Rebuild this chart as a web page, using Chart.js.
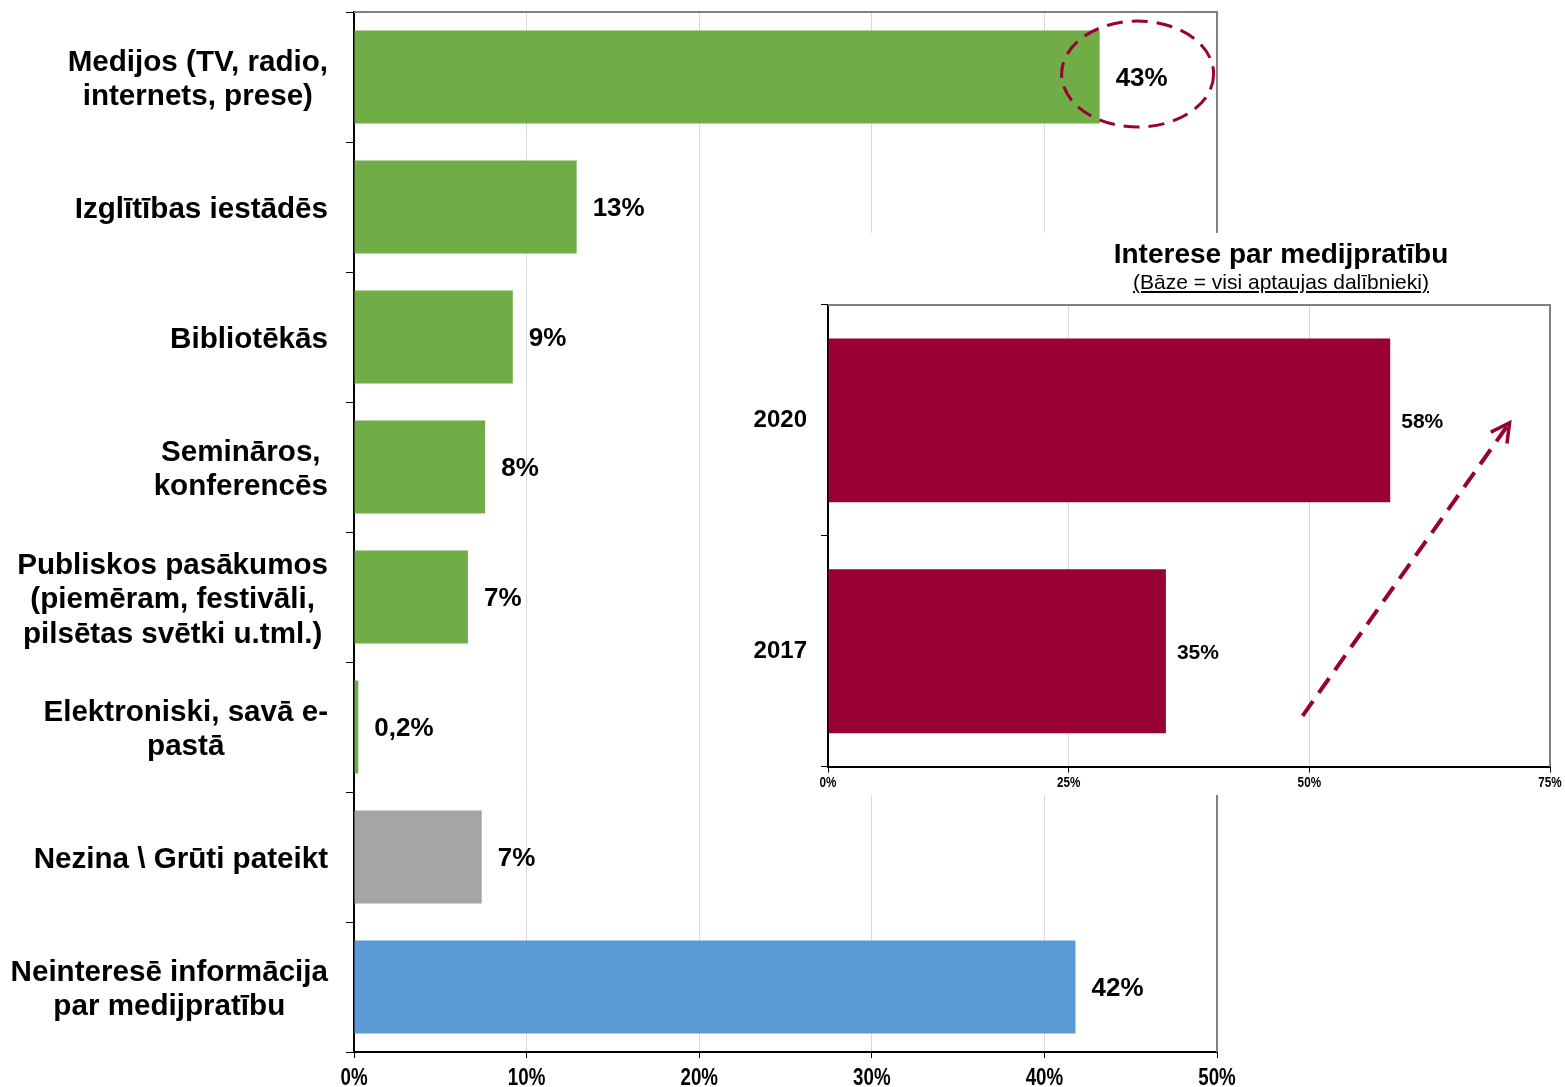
<!DOCTYPE html>
<html>
<head>
<meta charset="utf-8">
<script src="https://cdn.jsdelivr.net/npm/chart.js@4"></script>
<style>
  body { margin: 0; background: #fff; }
  #wrap { position: relative; width: 1565px; height: 1087px; overflow: hidden; }
  #mainChart { position: absolute; left: 0; top: 0; }
  #insetChart { position: absolute; left: 720px; top: 233px; }
  .inset-title { position: absolute; left: 1081px; width: 400px; text-align: center; color: #000;
                 font-family: "Liberation Sans", Arial, sans-serif; white-space: nowrap; }
  #t1 { top: 238px; font-size: 28px; line-height: 32px; font-weight: bold; }
  #t2 { top: 270px; font-size: 21px; line-height: 24px; text-decoration: underline; }
</style>
</head>
<body>
<div id="wrap">
  <canvas id="mainChart" width="1565" height="1087"></canvas>
  <canvas id="insetChart" width="845" height="562"></canvas>
  <div class="inset-title" id="t1">Interese par medijpratību</div>
  <div class="inset-title" id="t2">(Bāze = visi aptaujas dalībnieki)</div>
</div>
<script>
// galvenais grafiks - kur vēlas saņemt informāciju
const categoryLines = [
    ["Medijos (TV, radio,", "internets, prese)"],
    ["Izglītības iestādēs"],
    ["Bibliotēkās"],
    ["Semināros,", "konferencēs"],
    ["Publiskos pasākumos", "(piemēram, festivāli,", "pilsētas svētki u.tml.)"],
    ["Elektroniski, savā e-", "pastā"],
    ["Nezina \\ Grūti pateikt"],
    ["Neinteresē informācija", "par medijpratību"]
];
const shares = [43.2, 12.9, 9.2, 7.6, 6.6, 0.25, 7.4, 41.8];
const shareLabels = ["43%", "13%", "9%", "8%", "7%", "0,2%", "7%", "42%"];
const barColors = ["#70AD47", "#70AD47", "#70AD47", "#70AD47", "#70AD47", "#70AD47", "#A5A5A5", "#5B9BD5"];

// ieliktnis - interese par medijpratību
const years = ["2020", "2017"];
const interest = [58.4, 35.1];
const interestLabels = ["58%", "35%"];

const FONT = '"Liberation Sans", Arial, sans-serif';
const RED = "#990033";

// pelēkais rāmis augšā un labajā pusē
const frame = {
    id: 'frame',
    afterDraw(chart) {
        const a = chart.chartArea, ctx = chart.ctx;
        ctx.save();
        ctx.strokeStyle = "#808080";
        ctx.lineWidth = 2;
        ctx.beginPath();
        ctx.moveTo(a.left, a.top);
        ctx.lineTo(a.right, a.top);
        ctx.lineTo(a.right, a.bottom);
        ctx.stroke();
        ctx.restore();
    }
};

// vērtību etiķetes pie stabiņiem
function valueLabels(labels, font, gap) {
    return {
        id: 'valueLabels',
        afterDatasetsDraw(chart) {
            const ctx = chart.ctx;
            ctx.save();
            ctx.font = font;
            ctx.fillStyle = "#000";
            ctx.textAlign = "left";
            ctx.textBaseline = "middle";
            chart.getDatasetMeta(0).data.forEach((bar, i) => {
                ctx.fillText(labels[i], bar.x + gap, bar.y + 2);
            });
            ctx.restore();
        }
    };
}

// x ass procenti - šaurāks burtu stils
function xTickLabels(font, squeeze, dy) {
    return {
        id: 'xTickLabels',
        afterDraw(chart) {
            const s = chart.scales.x, ctx = chart.ctx;
            ctx.save();
            ctx.font = font;
            ctx.fillStyle = "#000";
            ctx.textAlign = "center";
            ctx.textBaseline = "middle";
            s.ticks.forEach(t => {
                ctx.save();
                ctx.translate(s.getPixelForValue(t.value), s.top + dy);
                ctx.scale(squeeze, 1);
                ctx.fillText(t.value + "%", 0, 0);
                ctx.restore();
            });
            ctx.restore();
        }
    };
}

// kategoriju nosaukumi - bloks pa labi, rindas centrētas
const categoryLabels = {
    id: 'categoryLabels',
    afterDraw(chart) {
        const ctx = chart.ctx, y = chart.scales.y;
        ctx.save();
        ctx.font = 'bold 29.6px ' + FONT;
        ctx.fillStyle = "#000";
        ctx.textAlign = "center";
        ctx.textBaseline = "middle";
        const right = y.right - 26;
        const lh = 34.5;
        categoryLines.forEach((lines, i) => {
            const cy = y.getPixelForTick(i) + 3;
            const w = Math.max(...lines.map(l => ctx.measureText(l).width));
            const cx = right - w / 2;
            lines.forEach((l, j) => ctx.fillText(l, cx, cy + (j - (lines.length - 1) / 2) * lh));
        });
        ctx.restore();
    }
};

// raustītā elipse ap 43%
const ellipse = {
    id: 'ellipse',
    afterDraw(chart) {
        const bar = chart.getDatasetMeta(0).data[0];
        const ctx = chart.ctx;
        ctx.save();
        ctx.strokeStyle = RED;
        ctx.lineWidth = 3;
        ctx.setLineDash([16, 9]);
        ctx.beginPath();
        ctx.ellipse(bar.x + 38, bar.y - 3, 76, 53, 0, 0, Math.PI * 2);
        ctx.stroke();
        ctx.restore();
    }
};

new Chart(document.getElementById("mainChart").getContext("2d"), {
    type: 'bar',
    data: {
        labels: categoryLines.map(l => l.join(" ")),
        datasets: [{
            data: shares,
            backgroundColor: barColors,
            barPercentage: 0.715,
            categoryPercentage: 1
        }]
    },
    options: {
        indexAxis: 'y',
        responsive: false,
        animation: false,
        layout: { padding: { top: 12, right: 348, left: 0, bottom: 0 } },
        plugins: { legend: { display: false }, tooltip: { enabled: false } },
        scales: {
            x: {
                min: 0, max: 50,
                ticks: { stepSize: 10, display: false },
                grid: { color: "#d9d9d9", tickColor: "#000", tickLength: 6 },
                border: { color: "#000", width: 2 },
                afterFit: s => { s.height = 35; }
            },
            y: {
                ticks: { display: false },
                grid: { drawOnChartArea: false, tickColor: "#000", tickLength: 8, offset: true },
                border: { color: "#000", width: 2 },
                afterFit: s => { s.width = 354; }
            }
        }
    },
    plugins: [frame, categoryLabels, valueLabels(shareLabels, 'bold 26px ' + FONT, 16),
              xTickLabels('bold 24px ' + FONT, 0.78, 26), ellipse]
});

// baltais fons ieliktnim
const whiteBg = {
    id: 'whiteBg',
    beforeDraw(chart) {
        const ctx = chart.ctx;
        ctx.save();
        ctx.fillStyle = "#fff";
        ctx.fillRect(0, 0, chart.width, chart.height);
        ctx.restore();
    }
};

// raustītā bulta (pieaugums)
const arrow = {
    id: 'arrow',
    afterDraw(chart) {
        const a = chart.chartArea, x = chart.scales.x, ctx = chart.ctx;
        const h = a.bottom - a.top;
        const x0 = x.getPixelForValue(49.3), y0 = a.top + 0.89 * h;
        const x1 = x.getPixelForValue(70.8), y1 = a.top + 0.255 * h;
        ctx.save();
        ctx.strokeStyle = RED;
        ctx.lineWidth = 4;
        ctx.setLineDash([18, 10]);
        ctx.beginPath();
        ctx.moveTo(x0, y0);
        ctx.lineTo(x1, y1);
        ctx.stroke();
        ctx.setLineDash([]);
        ctx.lineWidth = 3.5;
        const back = Math.atan2(y0 - y1, x0 - x1);
        ctx.beginPath();
        ctx.moveTo(x1 + 21 * Math.cos(back + 0.49), y1 + 21 * Math.sin(back + 0.49));
        ctx.lineTo(x1, y1);
        ctx.lineTo(x1 + 21 * Math.cos(back - 0.49), y1 + 21 * Math.sin(back - 0.49));
        ctx.stroke();
        ctx.restore();
    }
};

new Chart(document.getElementById("insetChart").getContext("2d"), {
    type: 'bar',
    data: {
        labels: years,
        datasets: [{
            data: interest,
            backgroundColor: RED,
            barPercentage: 0.71,
            categoryPercentage: 1
        }]
    },
    options: {
        indexAxis: 'y',
        responsive: false,
        animation: false,
        layout: { padding: { top: 72, right: 15, left: 0, bottom: 0 } },
        plugins: { legend: { display: false }, tooltip: { enabled: false } },
        scales: {
            x: {
                min: 0, max: 75,
                ticks: { stepSize: 25, display: false },
                grid: { color: "#d9d9d9", tickColor: "#000", tickLength: 6 },
                border: { color: "#000", width: 2 },
                afterFit: s => { s.height = 28; }
            },
            y: {
                ticks: { color: "#000", padding: 14, font: { family: FONT, size: 24, weight: 'bold' } },
                grid: { drawOnChartArea: false, tickColor: "#000", tickLength: 7, offset: true },
                border: { color: "#000", width: 2 },
                afterFit: s => { s.width = 108; }
            }
        }
    },
    plugins: [whiteBg, frame, valueLabels(interestLabels, 'bold 21px ' + FONT, 11),
              xTickLabels('bold 15px ' + FONT, 0.78, 16), arrow]
});
</script>
</body>
</html>
